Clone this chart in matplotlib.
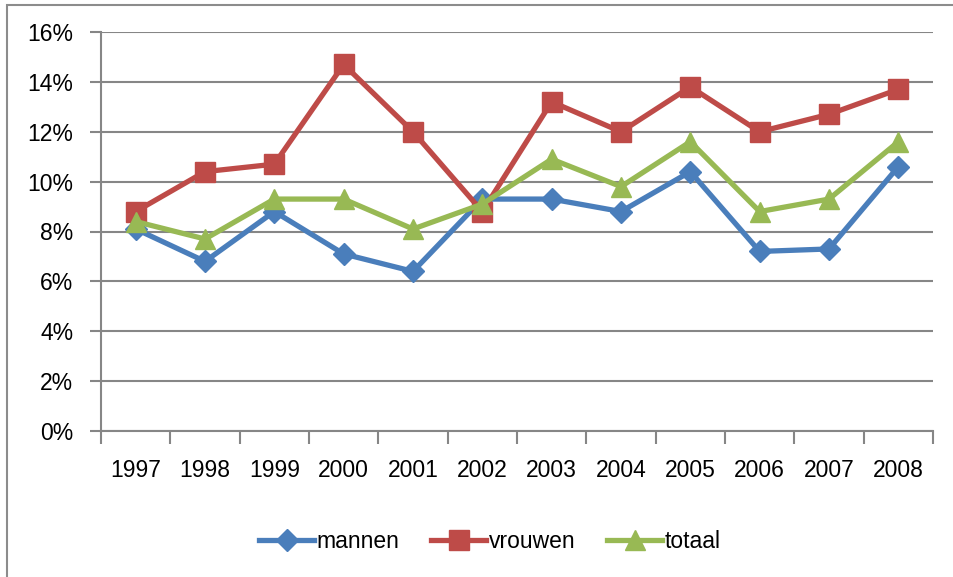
import matplotlib.pyplot as plt
from matplotlib.patches import Rectangle

jaren = ['1997', '1998', '1999', '2000', '2001', '2002', '2003', '2004', '2005', '2006', '2007', '2008']
mannen = [8.1, 6.8, 8.8, 7.1, 6.4, 9.3, 9.3, 8.8, 10.4, 7.2, 7.3, 10.6]
vrouwen = [8.8, 10.4, 10.7, 14.7, 12.0, 8.8, 13.2, 12.0, 13.8, 12.0, 12.7, 13.7]
totaal = [8.4, 7.7, 9.3, 9.3, 8.1, 9.1, 10.9, 9.8, 11.6, 8.8, 9.3, 11.6]
yticks = [0, 2, 4, 6, 8, 10, 12, 14, 16]

plt.rcParams['font.family'] = ['Liberation Sans Narrow', 'Liberation Sans', 'DejaVu Sans']
fs = 16.5

fig = plt.figure(figsize=(9.54, 5.77), dpi=100)
ax = fig.add_axes([101 / 954, 1 - 431 / 577, 832 / 954, 399 / 577])

# kader rond de grafiek
fig.patches.append(Rectangle((7 / 954, -0.1), 1.1, 1 - 5 / 577 + 0.1, transform=fig.transFigure,
                             fill=False, edgecolor='#8c8c8c', linewidth=1.5))

x = range(len(jaren))
ax.plot(x, mannen, color='#4A7EBB', lw=3.8, marker='D', ms=11, label='mannen')
ax.plot(x, vrouwen, color='#BE4B48', lw=3.8, marker='s', ms=14, label='vrouwen')
ax.plot(x, totaal, color='#98B954', lw=3.8, marker='^', ms=14, label='totaal')

ax.set_xlim(-0.5, len(jaren) - 0.5)
ax.set_ylim(0, 16)
ax.set_yticks(yticks)
ax.set_yticklabels([f'{v}%' for v in yticks], fontsize=fs)
ax.set_xticks(list(x))
ax.set_xticklabels(jaren, fontsize=fs)
ax.set_xticks([i - 0.5 for i in range(len(jaren) + 1)], minor=True)
ax.tick_params(axis='x', which='major', length=0, pad=20)
ax.tick_params(axis='x', which='minor', length=9, width=1.5, color='#868686')
ax.tick_params(axis='y', length=8, width=1.5, color='#868686', pad=12)
ax.grid(axis='y', color='#868686', lw=1.5)
ax.set_axisbelow(True)
for s in ['top', 'right']:
    ax.spines[s].set_visible(False)
for s in ['left', 'bottom']:
    ax.spines[s].set_color('#868686')
    ax.spines[s].set_linewidth(1.5)

fig.legend(loc='center', bbox_to_anchor=(490 / 954, 1 - 542 / 577), ncol=3, frameon=False,
           fontsize=fs, handlelength=2.4, handletextpad=0.1, columnspacing=1.4)

fig.savefig('out.png', dpi=100)
